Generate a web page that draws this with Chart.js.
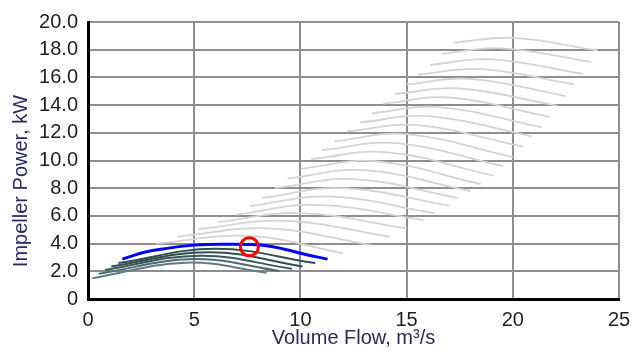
<!DOCTYPE html>
<html>
<head>
<meta charset="utf-8">
<script src="https://cdn.jsdelivr.net/npm/chart.js@4.4.1/dist/chart.umd.min.js"></script>
<style>
  html, body { margin: 0; padding: 0; background: #fff; }
  #wrap { width: 642px; height: 351px; }
</style>
</head>
<body>
<div id="wrap"><canvas id="chart" width="642" height="351"></canvas></div>
<script>
// Axis ticks
const xTicks = [0, 5, 10, 15, 20, 25];
const xTickLabels = ['0', '5', '10', '15', '20', '25'];
const yTicks = [0, 2, 4, 6, 8, 10, 12, 14, 16, 18, 20];
const yTickLabels = ['0', '2.0', '4.0', '6.0', '8.0', '10.0', '12.0', '14.0', '16.0', '18.0', '20.0'];

// Grey fan curves (flow m3/s, power kW): start, peak, end
const greyStart = [
    [17.2, 18.5], [16.65, 17.7], [16.1, 16.9], [15.55, 16.2], [15.0, 15.5], [14.45, 14.8],
    [13.9, 14.1], [13.35, 13.4], [12.8, 12.75], [12.2, 12.1], [11.6, 11.4], [11.0, 10.75],
    [10.5, 10.1], [10.0, 9.4], [9.4, 8.7], [8.8, 8.0], [8.2, 7.3], [7.6, 6.7],
    [7.0, 6.1], [6.1, 5.55], [5.2, 5.05], [4.2, 4.5], [3.2, 4.0]
];
const greyPeak = [
    [20.0, 18.85], [19.5, 18.1], [19.0, 17.3], [18.5, 16.6], [18.0, 15.9], [17.5, 15.2],
    [17.0, 14.55], [16.5, 13.85], [16.0, 13.2], [15.5, 12.55], [15.0, 11.9], [14.5, 11.25],
    [14.0, 10.6], [13.5, 9.95], [13.0, 9.3], [12.5, 8.65], [12.0, 8.0], [11.4, 7.4],
    [10.8, 6.8], [10.0, 6.2], [9.3, 5.65], [8.5, 5.1], [7.6, 4.55]
];
const greyEnd = [
    [24.0, 17.95], [23.7, 17.1], [23.3, 16.25], [22.9, 15.5], [22.5, 14.65], [22.1, 13.95],
    [21.75, 13.15], [21.35, 12.4], [20.9, 11.75], [20.5, 11.0], [20.0, 10.25], [19.55, 9.6],
    [19.1, 8.9], [18.5, 8.3], [18.0, 7.8], [17.4, 7.3], [17.0, 6.75], [16.3, 6.2],
    [15.8, 5.7], [15.0, 5.1], [14.2, 4.5], [13.3, 3.9], [12.0, 3.3]
];

// Dark curves below the selected one
const darkStart = [[1.43, 2.6], [1.1, 2.35], [0.8, 2.1], [0.5, 1.82], [0.2, 1.5]];
const darkPeak = [[6.0, 3.62], [5.7, 3.38], [5.3, 3.13], [5.0, 2.88], [4.6, 2.62]];
const darkEnd = [[10.7, 2.6], [10.1, 2.35], [9.6, 2.18], [9.0, 2.03], [8.4, 1.9]];
const darkColors = ['#2f4f4f', '#2f4f4f', '#3b5858', '#4d6a70', '#627a86'];

// Selected curve and operating point
const blueFlow = [1.62, 2.7, 3.6, 5.0, 6.5, 8.3, 9.3, 10.2, 11.28];
const bluePower = [2.88, 3.39, 3.63, 3.89, 3.95, 3.87, 3.58, 3.23, 2.88];
const pointFlow = [7.6];
const pointPower = [3.77];

const toPts = (list) => list.map(p => ({ x: p[0], y: p[1] }));

const datasets = [];

datasets.push({
    data: pointFlow.map((q, i) => ({ x: q, y: pointPower[i] })),
    showLine: false,
    pointRadius: 9,
    pointBorderWidth: 3,
    pointBorderColor: '#ff0000',
    pointBackgroundColor: 'rgba(0,0,0,0)'
});

datasets.push({
    data: blueFlow.map((q, i) => ({ x: q, y: bluePower[i] })),
    borderColor: '#0000ff',
    borderWidth: 3,
    pointRadius: 0,
    tension: 0.4
});

darkStart.forEach((s, i) => {
    datasets.push({
        data: toPts([s, darkPeak[i], darkEnd[i]]),
        borderColor: darkColors[i],
        borderWidth: 2,
        pointRadius: 0,
        tension: 0.4
    });
});

greyStart.forEach((s, i) => {
    datasets.push({
        data: toPts([s, greyPeak[i], greyEnd[i]]),
        borderColor: '#d4d4d4',
        borderWidth: 1.8,
        pointRadius: 0,
        tension: 0.4
    });
});

// y title drawn by hand so it sits where the original one is
const yTitle = {
    id: 'yTitle',
    afterDraw(chart) {
        const ctx = chart.ctx;
        ctx.save();
        ctx.translate(21, 181);
        ctx.rotate(-Math.PI / 2);
        ctx.font = '20px "Liberation Sans", Arial, sans-serif';
        ctx.fillStyle = '#2a2a66';
        ctx.textAlign = 'center';
        ctx.textBaseline = 'middle';
        ctx.fillText('Impeller Power, kW', 0, 0);
        ctx.restore();
    }
};

const tickFont = { family: '"Liberation Sans", Arial, sans-serif', size: 20 };

new Chart(document.getElementById('chart'), {
    type: 'line',
    data: { datasets },
    plugins: [yTitle],
    options: {
        responsive: false,
        animation: false,
        layout: { padding: { top: 16, right: 23, left: 0, bottom: 0 } },
        plugins: { legend: { display: false }, tooltip: { enabled: false } },
        scales: {
            x: {
                type: 'linear',
                min: 0,
                max: 25,
                afterBuildTicks: (s) => { s.ticks = xTicks.map(v => ({ value: v })); },
                afterFit: (s) => { s.height = 52; },
                ticks: {
                    padding: 9,
                    color: '#1e1e1e',
                    font: tickFont,
                    maxRotation: 0,
                    callback: (v, i) => xTickLabels[i]
                },
                grid: { color: '#8e8e8e', lineWidth: 2, drawTicks: false },
                border: { color: '#000', width: 3 },
                title: {
                    display: true,
                    text: 'Volume Flow, m³/s',
                    color: '#2a2a55',
                    font: tickFont,
                    padding: { top: 0, bottom: 1 }
                }
            },
            y: {
                min: 0,
                max: 20,
                afterBuildTicks: (s) => { s.ticks = yTicks.map(v => ({ value: v })); },
                afterFit: (s) => { s.width = 88; },
                ticks: {
                    padding: 10,
                    color: '#1e1e1e',
                    font: tickFont,
                    callback: (v, i) => yTickLabels[i]
                },
                grid: { color: '#8e8e8e', lineWidth: 2, drawTicks: false },
                border: { color: '#000', width: 3 }
            }
        }
    }
});
</script>
</body>
</html>
